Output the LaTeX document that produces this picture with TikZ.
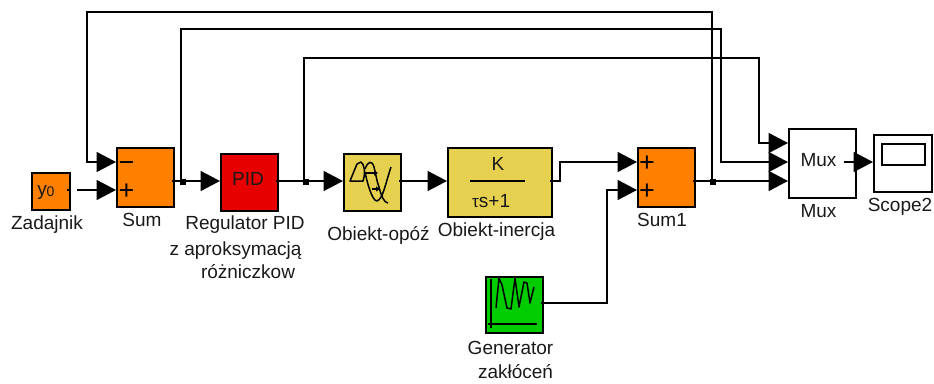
\documentclass[tikz,border=0pt]{standalone}
\usepackage{fontspec}
\setmainfont{Liberation Sans}
\usetikzlibrary{arrows.meta}
\definecolor{sumorange}{RGB}{255,128,0}
\definecolor{pidred}{RGB}{230,0,0}
\definecolor{plantyellow}{RGB}{230,208,80}
\definecolor{gengreen}{RGB}{0,204,0}
\tikzset{
  x=1pt,y=-1pt,
  blockbox/.style={draw=black,line width=1.7pt,anchor=north west,inner sep=0pt,outer sep=0pt},
  wire/.style={draw=black,line width=1.7pt,line join=miter},
  sig/.style={wire,-{Triangle[length=19.5pt,width=20pt]},shorten >=1pt},
  junction/.style={fill=black,inner sep=0pt,minimum size=5.5pt,outer sep=0pt},
  lab/.style={inner sep=0pt,anchor=base,font=\fontsize{19}{19}\selectfont,text=black!90},
  sign/.style={inner sep=0pt,anchor=base,font=\fontsize{27}{27}\selectfont,text=black},
  icon/.style={draw=black,line width=1.5pt,line join=round},
  iconarrow/.style={icon,line width=1.1pt,-{Triangle[length=4pt,width=5pt]}}
}
\newcommand{\blk}[6]{\node[blockbox,fill=#6,minimum width=#4pt,minimum height=#5pt] (#1) at (#2,#3) {};}
\begin{document}
\begin{tikzpicture}
\useasboundingbox (0,0) rectangle (934,383);
\blk{zad}{32}{173}{38}{37}{sumorange}
\blk{sumA}{117}{148}{57}{59}{sumorange}
\blk{pid}{221}{154}{57}{57}{pidred}
\blk{delay}{344}{154}{57}{57}{plantyellow}
\blk{iner}{448}{148}{104}{69}{plantyellow}
\blk{sumB}{638}{148}{57}{59}{sumorange}
\blk{mux}{789}{129}{67}{69}{white}
\blk{scope}{874}{135}{58}{57}{white}
\blk{gen}{486}{277}{57}{56}{gengreen}
\node[draw=black,line width=1.7pt,minimum width=43pt,minimum height=21pt,inner sep=0pt,anchor=north west] (screen) at (881,143) {};
% ports
\coordinate (zadtick) at (67,190);
\coordinate (zadedge) at (70,190);
\coordinate (zadout) at (77,190);
\coordinate (sumAm) at (117,162);
\coordinate (sumAp) at (117,190);
\coordinate (sumAout) at (172,181);
\coordinate (pidin) at (221,181);
\coordinate (pidout) at (276,181);
\coordinate (delayin) at (344,181);
\coordinate (delayout) at (399,181);
\coordinate (inerin) at (448,181);
\coordinate (inerout) at (550,181);
\coordinate (sumBa) at (638,162);
\coordinate (sumBb) at (638,190);
\coordinate (sumBout) at (693,181);
\coordinate (muxa) at (789,143);
\coordinate (muxb) at (789,162);
\coordinate (muxc) at (789,181);
\coordinate (muxout) at (844,162);
\coordinate (scopein) at (874,162);
\coordinate (genout) at (541,303);
\coordinate (b1) at (181,181);
\coordinate (b2) at (304,181);
\coordinate (b3) at (712,181);
\node[junction] (j1) at (183,182) {};
\node[junction] (j2) at (306,182) {};
\node[junction] (j3) at (713,182) {};
% connectors
\draw[wire] (zadtick) -- (zadedge);
\draw[sig] (zadout) -- (sumAp);
\draw[sig] (sumAout) -- (pidin);
\draw[sig] (pidout) -- (delayin);
\draw[sig] (delayout) -- (inerin);
\draw[sig] (inerout) -- (560,181) -- (560,162) -- (sumBa);
\draw[sig] (genout) -- (607,303) -- (607,190) -- (sumBb);
\draw[sig] (sumBout) -- (muxc);
\draw[sig] (muxout) -- (scopein);
\draw[sig] (b3) -- (712,12) -- (87,12) -- (87,162) -- (sumAm);
\draw[sig] (b1) -- (181,29) -- (721,29) -- (721,162) -- (muxb);
\draw[sig] (b2) -- (304,58) -- (759,58) -- (759,143) -- (muxa);
% block texts
\node[lab] (ty) at (42,195) {y};
\node[lab,font=\fontsize{14}{14}\selectfont] (t0) at (50.5,196) {0};
\node[sign] (m1) at (126.5,171) {−};
\node[sign] (p1) at (126.5,199) {+};
\node[lab] (tpid) at (248,185) {PID};
\node[lab] (tk) at (498,170) {K};
\draw[wire] (470,181) -- (525,181);
\node[lab,anchor=base west] (ttau) at (472,207) {{\fontsize{17}{17}\selectfont τ}s+1};
\node[sign] (p2) at (647,171) {+};
\node[sign] (p3) at (647,199) {+};
\node[lab] (tmux) at (818.5,166) {Mux};
% delay icon
\draw[icon] (350,181) -- (357,164) -- (361,162) .. controls (364,164) and (366,172) .. (363,181) -- cycle;
\draw[icon] (365,169) .. controls (368,161) and (372,160) .. (374,167) .. controls (376,175) and (377,182) .. (379,187) .. controls (381,195) and (384,203) .. (388,203);
\draw[icon] (365,172) .. controls (367,182) and (372,201) .. (377,201) .. controls (383,199) and (385,185) .. (391,167);
\draw[iconarrow] (366,173) -- (378,173);
\draw[iconarrow] (372,189) -- (380,189);
% generator icon
\draw[icon] (491,279) -- (491,328);
\draw[icon] (488,324) -- (537,324);
\draw[icon] (496,308) -- (499,278) -- (502,285) -- (507,308) -- (511,309) -- (515,278) -- (519,307) -- (524,282) -- (527,283) -- (530,303) -- (534,287);
% captions
\node[lab] (c1) at (47,229) {Zadajnik};
\node[lab] (c2) at (142,226) {Sum};
\node[lab] (c3) at (245,229) {Regulator PID};
\node[lab] (c4) at (235.5,255) {z aproksymacją};
\node[lab] (c5) at (248,278) {różniczkow};
\node[lab] (c6) at (378.5,240) {Obiekt-opóź};
\node[lab] (c7) at (496.5,236) {Obiekt-inercja};
\node[lab] (c8) at (662,226) {Sum1};
\node[lab] (c9) at (818.5,217) {Mux};
\node[lab] (c10) at (900,211) {Scope2};
\node[lab] (c11) at (510.5,354) {Generator};
\node[lab] (c12) at (515.5,378) {zakłóceń};
\end{tikzpicture}
\end{document}
